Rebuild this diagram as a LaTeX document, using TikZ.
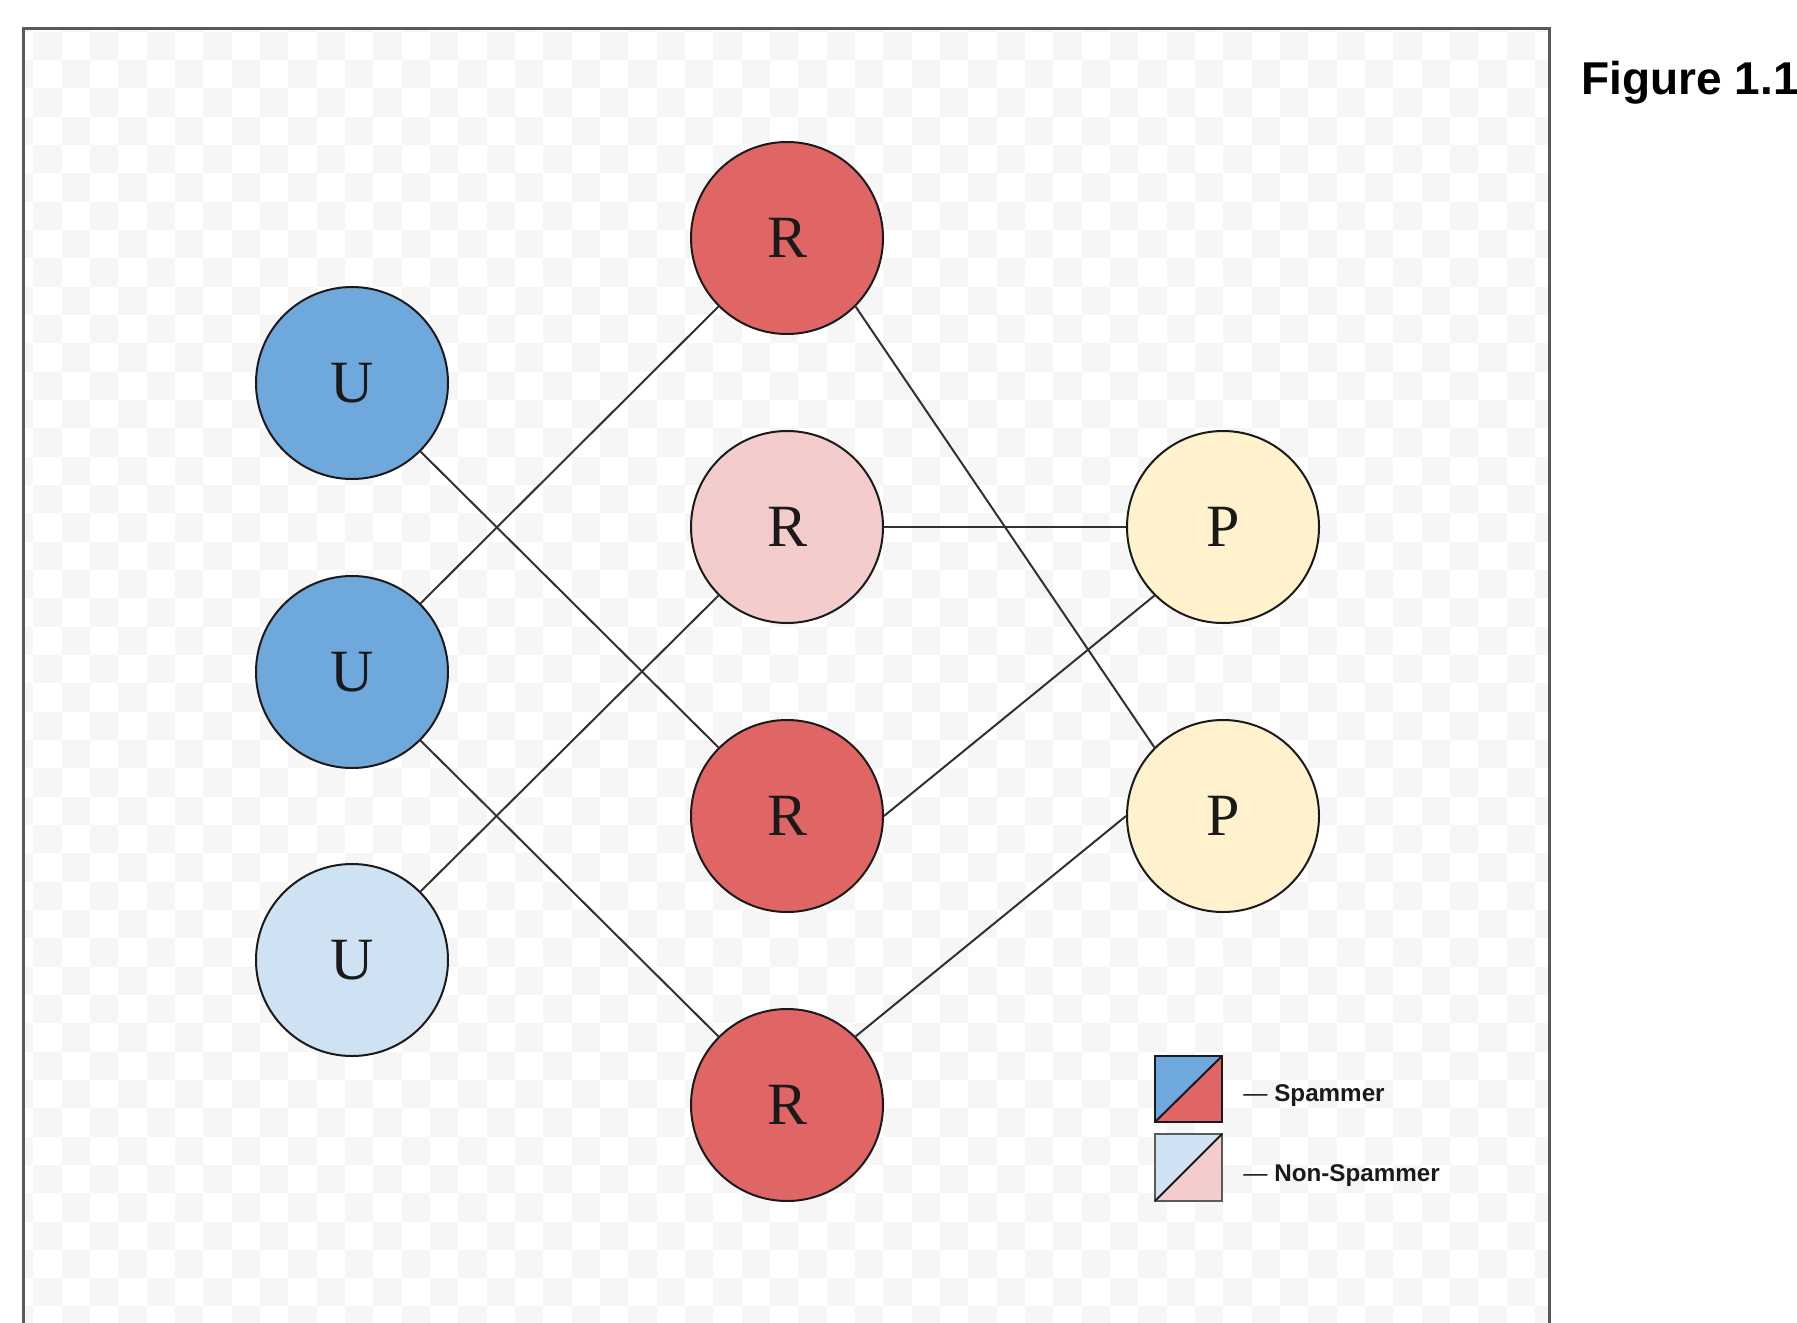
\documentclass[tikz,border=0pt]{standalone}
\usepackage{fontspec}
\setmainfont{Liberation Serif}
\setsansfont{Liberation Sans}
\definecolor{spamblue}{HTML}{6FA8DC}
\definecolor{spamred}{HTML}{E06666}
\definecolor{nsblue}{HTML}{CFE2F3}
\definecolor{nsred}{HTML}{F4CCCC}
\definecolor{prodyel}{HTML}{FFF2CC}
\definecolor{checkgray}{HTML}{F6F6F6}
\definecolor{framegray}{HTML}{5A5A5A}
\definecolor{inkc}{HTML}{1A1A1A}
\tikzset{
  vert/.style={circle, draw=inkc, line width=1pt, minimum size=96pt, inner sep=0pt,
    font=\fontsize{30}{30}\selectfont, text=inkc},
  edge/.style={draw=inkc!90, line width=1pt},
  legtext/.style={anchor=west, inner sep=0pt, font=\sffamily\bfseries\fontsize{12.1}{12}\selectfont, text=inkc},
}
\begin{document}
\begin{tikzpicture}[x=0.5pt,y=-0.5pt]
\useasboundingbox (0,0) rectangle (1797,1322);
\fill[white] (0,0) rectangle (1797,1322);
% checkerboard background
\begin{scope}
\clip (23,29) rectangle (1549,1322);
\foreach \i in {0,...,54} {
  \foreach \j in {0,...,46} {
    \pgfmathtruncatemacro\parity{mod(\i+\j,2)}
    \ifnum\parity=0
      \fill[checkgray] (5+28.33*\i,3.3+28.33*\j) rectangle (5+28.33*\i+28.33,3.3+28.33*\j+28.33);
    \fi
  }
}
\end{scope}
% frame
\draw[framegray, line width=1.5pt] (23,1330) -- (23,29) -- (1549,29) -- (1549,1330);
% title
\node[anchor=base west, inner sep=0pt, font=\sffamily\bfseries\fontsize{23}{23}\selectfont] (title) at (1581,95) {Figure 1.1};
% nodes
\node[vert, fill=spamblue] (u1) at (352,383) {U};
\node[vert, fill=spamblue] (u2) at (352,672) {U};
\node[vert, fill=nsblue]   (u3) at (352,960) {U};
\node[vert, fill=spamred]  (r1) at (787,238) {R};
\node[vert, fill=nsred]    (r2) at (787,527) {R};
\node[vert, fill=spamred]  (r3) at (787,816) {R};
\node[vert, fill=spamred]  (r4) at (787,1105) {R};
\node[vert, fill=prodyel]  (p1) at (1223,527) {P};
\node[vert, fill=prodyel]  (p2) at (1223,816) {P};
% edges
\draw[edge] (u1.south east) -- (r3.north west);
\draw[edge] (u2.north east) -- (r1.south west);
\draw[edge] (u2.south east) -- (r4.north west);
\draw[edge] (u3.north east) -- (r2.south west);
\draw[edge] (r1.south east) -- (p2.north west);
\draw[edge] (r2.east) -- (p1.west);
\draw[edge] (r3.east) -- (p1.south west);
\draw[edge] (r4.north east) -- (p2.west);
% legend
\coordinate (s1a) at (1155,1056);
\coordinate (s1b) at (1222,1122);
\fill[spamblue] (1155,1056) -- (1222,1056) -- (1155,1122) -- cycle;
\fill[spamred] (1222,1056) -- (1222,1122) -- (1155,1122) -- cycle;
\draw[inkc, line width=1pt] (s1a) rectangle (s1b);
\draw[inkc, line width=1pt] (1155,1122) -- (1222,1056);
\coordinate (s2a) at (1155,1134);
\coordinate (s2b) at (1222,1201);
\fill[nsblue] (1155,1134) -- (1222,1134) -- (1155,1201) -- cycle;
\fill[nsred] (1222,1134) -- (1222,1201) -- (1155,1201) -- cycle;
\draw[framegray, line width=1pt] (s2a) rectangle (s2b);
\draw[inkc, line width=1pt] (1155,1201) -- (1222,1134);
\node[legtext] (l1) at (1243,1096) {{\mdseries —} Spammer};
\node[legtext] (l2) at (1243,1176) {{\mdseries —} Non-Spammer};
\end{tikzpicture}
\end{document}
